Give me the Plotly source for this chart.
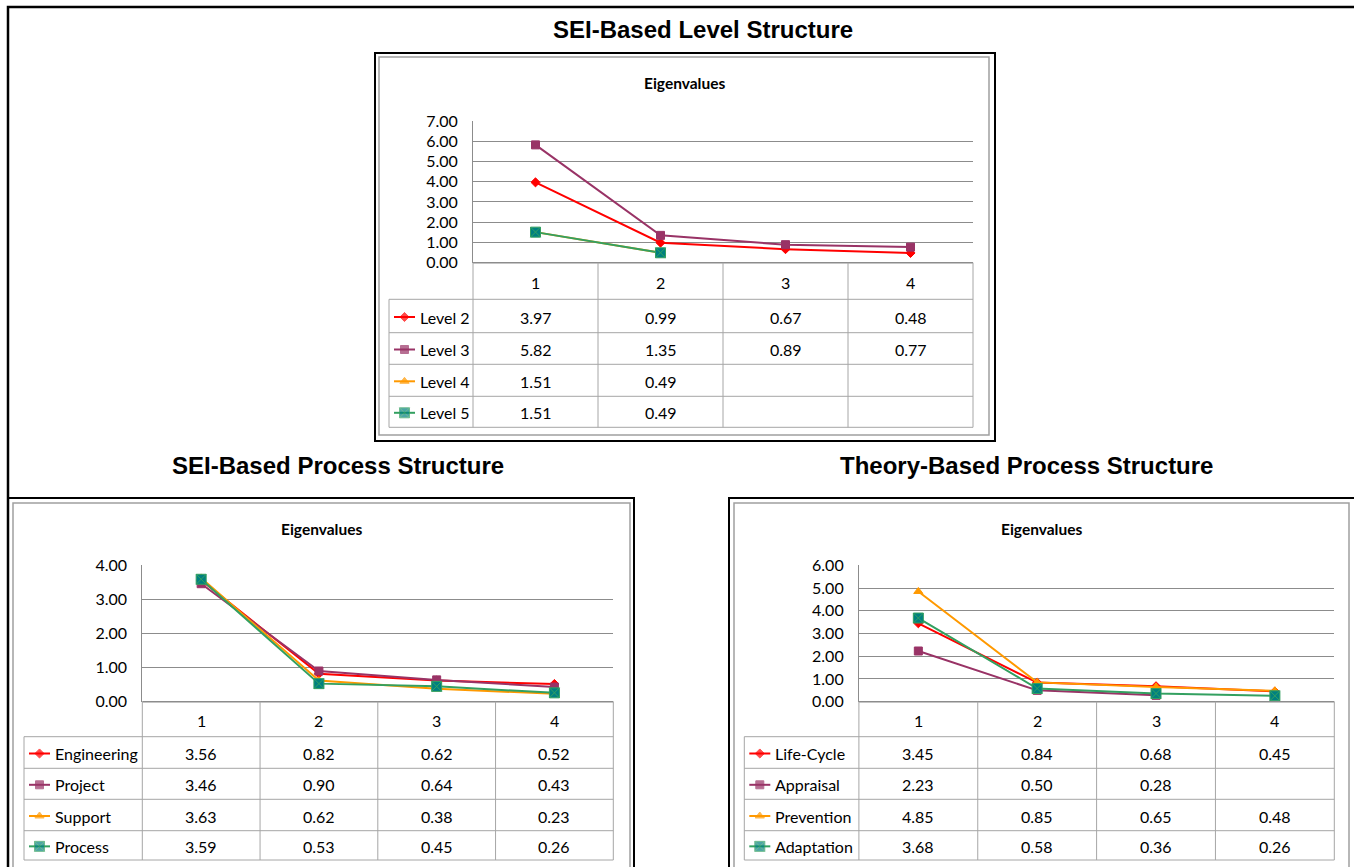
import plotly.graph_objects as go

# ---------------- data ----------------
categories = ["1", "2", "3", "4"]

level_title = "SEI-Based Level Structure"
level_names = ["Level 2", "Level 3", "Level 4", "Level 5"]
level_2 = [3.97, 0.99, 0.67, 0.48]
level_3 = [5.82, 1.35, 0.89, 0.77]
level_4 = [1.51, 0.49, None, None]
level_5 = [1.51, 0.49, None, None]

sei_title = "SEI-Based Process Structure"
sei_names = ["Engineering", "Project", "Support", "Process"]
engineering = [3.56, 0.82, 0.62, 0.52]
project = [3.46, 0.90, 0.64, 0.43]
support = [3.63, 0.62, 0.38, 0.23]
process = [3.59, 0.53, 0.45, 0.26]

theory_title = "Theory-Based Process Structure"
theory_names = ["Life-Cycle", "Appraisal", "Prevention", "Adaptation"]
life_cycle = [3.45, 0.84, 0.68, 0.45]
appraisal = [2.23, 0.50, 0.28, None]
prevention = [4.85, 0.85, 0.65, 0.48]
adaptation = [3.68, 0.58, 0.36, 0.26]

chart_title = "Eigenvalues"

# ---------------- layout constants ----------------
W, H = 1354, 867
FONT = "Lato, Liberation Sans Narrow, sans-serif"
TFONT = "Liberation Sans, Arial, sans-serif"
GRID = "#8C8C8C"
TLINE = "#A6A6A6"
FS = 16

styles = [
    dict(color="#FF0000", symbol="diamond", size=7, lcolor="#FF0000"),
    dict(color="#993366", symbol="square", size=8, lcolor="#993366"),
    dict(color="#FF9900", symbol="triangle-up", size=8, lcolor="#FF9900"),
    dict(color="#008080", symbol="square-x", size=10, lcolor="#33A060"),
]

panels = [
    dict(names=level_names, series=[level_2, level_3, level_4, level_5], ymax=7,
         l=473, r=973, top=121, rows=[262.7, 299.3, 332.7, 364.3, 396.3, 427.3],
         leg=389, title_y=83, frame=(375, 53, 995, 441), inner=(379, 57, 989, 435)),
    dict(names=sei_names, series=[engineering, project, support, process], ymax=4,
         l=142.3, r=613.3, top=565.3, rows=[701.7, 736.7, 768.3, 799.3, 830.7, 860],
         leg=24, title_y=529, frame=(8, 498, 634, 900), inner=(13, 503, 630, 900)),
    dict(names=theory_names, series=[life_cycle, appraisal, prevention, adaptation], ymax=6,
         l=858.9, r=1334.3, top=565.3, rows=[701.7, 736.7, 768.3, 799.3, 830.7, 860],
         leg=744.3, title_y=529, frame=(729, 498, 1360, 900), inner=(734, 503, 1349, 900)),
]


def X(px):
    return px / W


def Y(py):
    return 1 - py / H


fig = go.Figure()
shapes = []
annotations = []


def line(x0, y0, x1, y1, color, width):
    shapes.append(dict(type="line", xref="paper", yref="paper",
                       x0=X(x0), y0=Y(y0), x1=X(x1), y1=Y(y1),
                       line=dict(color=color, width=width)))


def rect(x0, y0, x1, y1, color, width):
    shapes.append(dict(type="rect", xref="paper", yref="paper",
                       x0=X(x0), y0=Y(y0), x1=X(x1), y1=Y(y1),
                       line=dict(color=color, width=width), fillcolor="rgba(0,0,0,0)"))


def text(x, y, s, size=FS, xanchor="center", family=FONT):
    annotations.append(dict(xref="paper", yref="paper", x=X(x), y=Y(y), text=s,
                            showarrow=False, xanchor=xanchor, yanchor="middle",
                            font=dict(family=family, size=size, color="black")))


# outer frame
rect(8, 7, 1370, 900, "black", 2.5)

# section titles
text(703, 29, "<b>%s</b>" % level_title, size=24, family=TFONT)
text(338, 465, "<b>%s</b>" % sei_title, size=24, family=TFONT)
text(1026, 465, "<b>%s</b>" % theory_title, size=24, family=TFONT)

layout_axes = {}
for i, p in enumerate(panels):
    n = "" if i == 0 else str(i + 1)
    layout_axes["xaxis" + n] = dict(domain=[X(p["l"]), X(p["r"])], range=[0.5, 4.5],
                                    showticklabels=False, showgrid=False, zeroline=False,
                                    showline=False, ticks="", fixedrange=True,
                                    automargin=False, anchor="y" + n)
    layout_axes["yaxis" + n] = dict(domain=[Y(p["rows"][0]), Y(p["top"])], range=[0, p["ymax"]],
                                    dtick=1, tickformat=".2f", showgrid=True, gridcolor=GRID,
                                    gridwidth=1, zeroline=False, showline=True, linecolor=GRID,
                                    linewidth=1, ticks="", ticklabelstandoff=11,
                                    tickfont=dict(family=FONT, size=FS, color="black"),
                                    fixedrange=True, automargin=False, anchor="x" + n)
    xs = [int(c) for c in categories]
    for name, vals, st in zip(p["names"], p["series"], styles):
        fig.add_trace(go.Scatter(
            x=xs, y=vals, name=name, mode="lines+markers", xaxis="x" + n, yaxis="y" + n,
            line=dict(color=st["lcolor"], width=2), cliponaxis=False,
            marker=dict(symbol=st["symbol"], size=st["size"], color=st["color"],
                        line=dict(color=st["lcolor"], width=1)),
            showlegend=False, connectgaps=False))

    # frames
    rect(*p["frame"], "black", 2)
    rect(*p["inner"], "#A0A0A0", 1.5)

    # chart title, centred on the inner chart frame
    text((p["inner"][0] + p["inner"][2]) / 2, p["title_y"], "<b>%s</b>" % chart_title, size=15.5)

    # table grid
    rows = p["rows"]
    colw = (p["r"] - p["l"]) / len(categories)
    cols = [p["l"] + k * colw for k in range(len(categories) + 1)]
    line(p["l"], rows[0], p["r"], rows[0], GRID, 1.5)
    for yy in rows[1:]:
        line(p["leg"], yy, p["r"], yy, TLINE, 1)
    for xx in cols:
        line(xx, rows[0], xx, rows[-1], TLINE, 1)
    line(p["leg"], rows[1], p["leg"], rows[-1], TLINE, 1)

    # header row
    for k, c in enumerate(categories):
        text((cols[k] + cols[k + 1]) / 2, (rows[0] + rows[1]) / 2 + 1, c)

    # value rows + legend labels
    for r_i, (name, vals) in enumerate(zip(p["names"], p["series"])):
        yc = (rows[r_i + 1] + rows[r_i + 2]) / 2 + 1
        for k, v in enumerate(vals):
            if v is not None:
                text((cols[k] + cols[k + 1]) / 2, yc, "%.2f" % v)
        text(p["leg"] + 29, yc, name, xanchor="left")

# legend keys in a full-page pixel axis
layout_axes["xaxis4"] = dict(domain=[0, 1], range=[0, W], visible=False, fixedrange=True,
                             automargin=False, anchor="y4")
layout_axes["yaxis4"] = dict(domain=[0, 1], range=[H, 0], visible=False, fixedrange=True,
                             automargin=False, anchor="x4")
for p in panels:
    rows = p["rows"]
    for r_i, st in enumerate(styles):
        yc = (rows[r_i + 1] + rows[r_i + 2]) / 2 + 1
        x0 = p["leg"] + 5
        fig.add_trace(go.Scatter(
            x=[x0, x0 + 10.5, x0 + 21], y=[yc, yc, yc], mode="lines+markers",
            xaxis="x4", yaxis="y4", showlegend=False, hoverinfo="skip",
            line=dict(color=st["lcolor"], width=2),
            marker=dict(symbol=st["symbol"], size=[0, st["size"], 0], color=st["color"],
                        line=dict(color=st["lcolor"], width=1))))

fig.update_layout(
    width=W, height=H, margin=dict(l=0, r=0, t=0, b=0, pad=0, autoexpand=False),
    paper_bgcolor="white", plot_bgcolor="rgba(0,0,0,0)",
    shapes=shapes, annotations=annotations, showlegend=False,
    **layout_axes)

fig.write_html("out.html", config={"displayModeBar": False},
               post_script="document.body.style.margin='0';")
